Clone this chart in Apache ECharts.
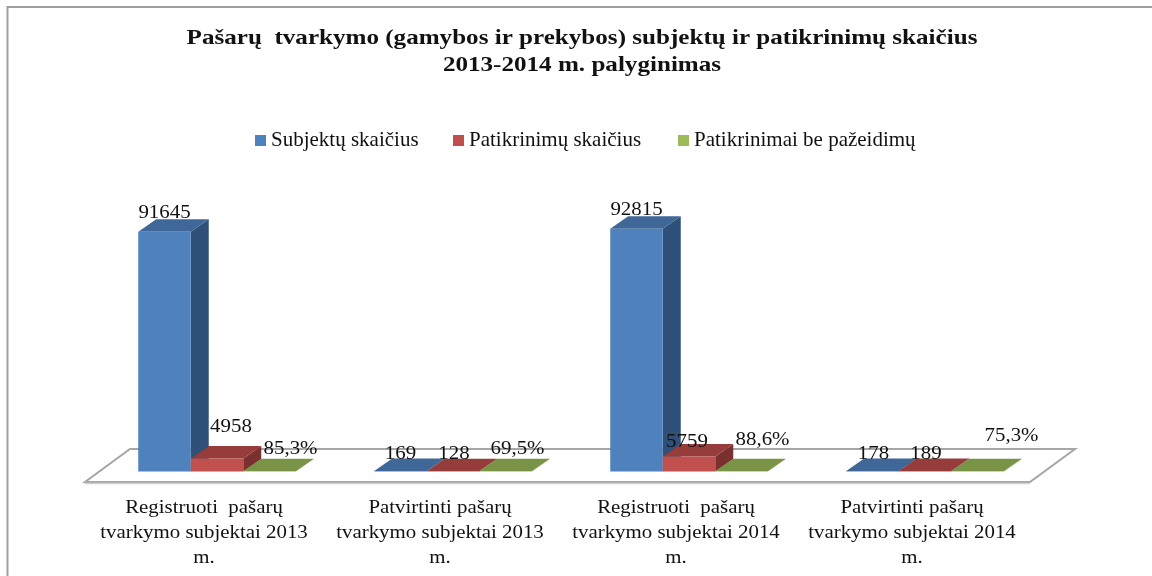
<!DOCTYPE html>
<html><head><meta charset="utf-8">
<style>html,body{margin:0;padding:0;background:#fff}#c{width:1152px;height:576px}</style>
<script src="https://cdn.jsdelivr.net/npm/echarts@6/dist/echarts.min.js"></script></head>
<body><div id="c"></div>
<script>
const categories = ['Registruoti  pašarų\ntvarkymo subjektai 2013\nm.','Patvirtinti pašarų\ntvarkymo subjektai 2013\nm.','Registruoti  pašarų\ntvarkymo subjektai 2014\nm.','Patvirtinti pašarų\ntvarkymo subjektai 2014\nm.'];
const subjects = [91645,169,92815,178];
const inspections = [4958,128,5759,189];
const cleanRate = [85.3,69.5,88.6,75.3];
const seriesNames = ['Subjektų skaičius','Patikrinimų skaičius','Patikrinimai be pažeidimų'];
const titleLines = ['Pašarų  tvarkymo (gamybos ir prekybos) subjektų ir patikrinimų skaičius','2013-2014 m. palyginimas'];
// hand-placed label nudges of the original, in px from the default spot
const subjectNudge = [[0,0],[0,2],[0,0],[1,2]];
const inspectionNudge = [[14,-13],[1,2],[-2,4],[1,2]];
const rateNudge = [[21,-4],[12,-4],[21,-13],[34,-17]];

const FONT='"Liberation Serif",serif';
const DX=18,DY=-12.5,STRETCH=1.16;
const COLS=[['#4f81bd','#3f6797','#2f5078'],['#c0504d','#963c3a','#7a302e'],['#9bbb59','#7a9446','#5f7336']];
function geom(si,api){
  const idx=api.value(0), v=api.value(1);
  const base=api.coord([idx,0]), top=api.coord([idx,v]);
  const w=api.size([1,0])[0]*0.2225, x0=base[0]-1.5*w+si*w;
  return {idx,v,x0,x1:x0+w,w,yb:base[1],yt:top[1]};
}
function bar3d(si){
  return function(params,api){
    const g=geom(si,api), c=COLS[si];
    return {type:'group',children:[
      {type:'polygon',shape:{points:[[g.x1,g.yb],[g.x1+DX,g.yb+DY],[g.x1+DX,g.yt+DY],[g.x1,g.yt]]},style:{fill:c[2]}},
      {type:'polygon',shape:{points:[[g.x0,g.yt],[g.x0+DX,g.yt+DY],[g.x1+DX,g.yt+DY],[g.x1,g.yt]]},style:{fill:c[1]}},
      {type:'rect',shape:{x:g.x0,y:g.yt,width:g.w,height:g.yb-g.yt},style:{fill:c[0]}}
    ]};
  };
}
function barLabel(si,nudge,fmt){
  return function(params,api){
    const g=geom(si,api), n=nudge[g.idx];
    return {type:'text',x:g.x0+g.w/2+n[0],y:g.yt+DY+n[1]-6,scaleX:STRETCH,
      style:{text:fmt(g.v),x:0,y:0,align:'center',verticalAlign:'middle',font:'18px '+FONT,fill:'#111'}};
  };
}
function floor(params,api){
  const a=api.coord([0,0]), b=api.coord([3,0]), cw=api.size([1,0])[0];
  const L=a[0]-cw/2-14, R=b[0]+cw/2-13, F=a[1]+10.5, B=a[1]-22.5, S=45;
  return {type:'group',children:[
    {type:'polygon',shape:{points:[[L,F],[R,F],[R+S,B],[L+S,B]]},style:{fill:'#fff',stroke:'#a6a6a6',lineWidth:2}},
    {type:'line',shape:{x1:L,y1:F+1.5,x2:R,y2:F+1.5},style:{stroke:'#d0d0d0',lineWidth:1.5}}
  ]};
}
function catLabel(params,api){
  const idx=api.value(0), p=api.coord([idx,0]);
  return {type:'text',x:p[0]-13,y:p[1]+24,scaleX:STRETCH,
    style:{text:categories[idx],x:0,y:0,align:'center',verticalAlign:'top',font:'18px '+FONT,lineHeight:25,fill:'#111'}};
}
const rows=a=>a.map((v,i)=>[i,v]);
const enc={x:0,y:1};
const pct=v=>v.toFixed(1).replace('.',',')+'%';
const chart=echarts.init(document.getElementById('c'),null,{renderer:'canvas'});
const legendAt=[255,453,678];
chart.setOption({
  animation:false,backgroundColor:'#fff',
  graphic:[
    {type:'rect',z:-1,shape:{x:7.5,y:7,width:1200,height:620},style:{fill:'#fff',stroke:'#a0a0a0',lineWidth:2}},
    {type:'text',z:5,x:582,y:39,scaleX:1.195,style:{text:titleLines[0],x:0,y:0,align:'center',verticalAlign:'middle',font:'bold 21px '+FONT,fill:'#111'}},
    {type:'text',z:5,x:582,y:66,scaleX:1.195,style:{text:titleLines[1],x:0,y:0,align:'center',verticalAlign:'middle',font:'bold 21px '+FONT,fill:'#111'}}
  ],
  legend:seriesNames.map((n,i)=>({top:130,left:legendAt[i],itemWidth:11,itemHeight:11,itemGap:0,icon:'rect',padding:0,
    data:[n],textStyle:{fontFamily:FONT,fontSize:21,color:'#111',padding:[2,0,0,0]}})),
  grid:{left:99,width:944,top:100,bottom:104.5},
  xAxis:{type:'category',data:categories,axisLine:{show:false},axisTick:{show:false},axisLabel:{show:false}},
  yAxis:{type:'value',min:0,max:142000,show:false},
  series:[
    {type:'custom',silent:true,z:1,renderItem:floor,data:[[0,0]],encode:enc,name:'_floor'},
    {type:'custom',name:seriesNames[0],itemStyle:{color:COLS[0][0]},z:2,renderItem:bar3d(0),data:rows(subjects),encode:enc},
    {type:'custom',name:seriesNames[1],itemStyle:{color:COLS[1][0]},z:3,renderItem:bar3d(1),data:rows(inspections),encode:enc},
    {type:'custom',name:seriesNames[2],itemStyle:{color:COLS[2][0]},z:4,renderItem:bar3d(2),data:rows(cleanRate),encode:enc},
    {type:'custom',silent:true,z:6,renderItem:barLabel(0,subjectNudge,String),data:rows(subjects),encode:enc,name:'_l0'},
    {type:'custom',silent:true,z:6,renderItem:barLabel(1,inspectionNudge,String),data:rows(inspections),encode:enc,name:'_l1'},
    {type:'custom',silent:true,z:6,renderItem:barLabel(2,rateNudge,pct),data:rows(cleanRate),encode:enc,name:'_l2'},
    {type:'custom',silent:true,z:6,renderItem:catLabel,data:rows([0,0,0,0]),encode:enc,name:'_cat'}
  ]
});
</script></body></html>
